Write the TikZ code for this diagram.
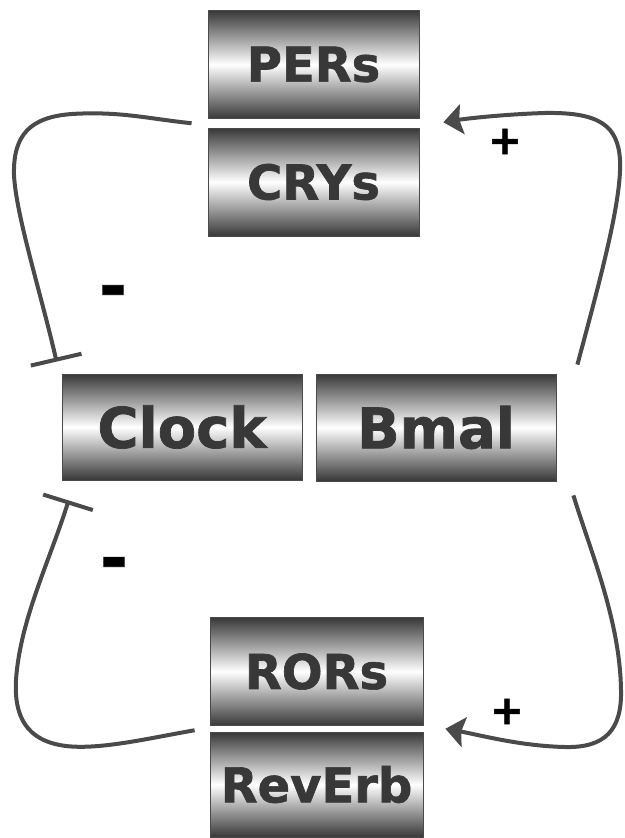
\documentclass[tikz,border=0pt]{standalone}
\usepackage{fontspec}
\setmainfont{DejaVu Sans}[BoldFeatures={FakeBold=1.3}]
\usetikzlibrary{arrows.meta,calc}

\definecolor{shadeDark}{HTML}{383838}
\definecolor{boxEdge}{HTML}{4A4A4A}
\definecolor{lineGray}{HTML}{4A4A4A}
\definecolor{labelGray}{HTML}{383838}

\tikzset{
  protbox/.style={draw=boxEdge, line width=0.8pt,
    top color=shadeDark, bottom color=shadeDark, middle color=white,
    inner sep=0pt, text=labelGray, font=\fontsize{48}{50}\selectfont\bfseries,
    minimum width=211pt, minimum height=108pt},
  corebox/.style={protbox, font=\fontsize{56}{58}\selectfont\bfseries,
    minimum width=240pt, minimum height=106pt},
  link/.style={draw=lineGray, line width=4pt},
  activate/.style={link, -{Stealth[length=19pt, width=30pt, inset=3pt]}},
  repress/.style={link, -{Bar[width=52pt]}},
  plussign/.style={anchor=base, inner sep=0pt, font=\fontsize{40}{42}\selectfont\bfseries},
  minussign/.style={anchor=base, inner sep=0pt, font=\fontsize{66}{68}\selectfont\bfseries},
}

\begin{document}
\begin{tikzpicture}[x=1pt, y=-1pt]
\useasboundingbox (0,0) rectangle (624,838);

% protein boxes
\node[protbox] (pers) at (313.5,64.5) {PERs};
\node[protbox] (crys) at (313.5,182) {CRYs};
\node[corebox] (clock) at (182,427) {Clock};
\node[corebox, minimum height=107pt] (bmal) at (436,427.5) {Bmal};
\node[protbox, minimum width=213pt] (rors) at (316.5,671.5) {RORs};
\node[protbox, minimum width=213pt, minimum height=105pt] (reverb) at (316.5,784.5) {RevErb};

% connector end points next to the boxes
\coordinate (crysOut) at ($(pers.south west)!0.5!(crys.north west)+(-16,0)$);
\coordinate (clockTop) at ($(clock.north west)+(-5,-12)$);
\coordinate (bmalTop) at ($(bmal.north east)+(21,-9)$);
\coordinate (crysIn) at ($(pers.south east)!0.5!(crys.north east)+(24,-1)$);
\coordinate (reverbOut) at ($(rors.south west)!0.5!(reverb.north west)+(-15,1.5)$);
\coordinate (clockBot) at ($(clock.south west)+(7,20)$);
\coordinate (bmalBot) at ($(bmal.south east)+(17,14)$);
\coordinate (rorsIn) at ($(rors.south east)!0.5!(reverb.north east)+(22,0)$);

% PER/CRY repress Clock/Bmal
\draw[repress] (crysOut) .. controls (150,119) and (120,111) .. (72,114)
  .. controls (30,117) and (13,135) .. (14,175)
  .. controls (16,215) and (40,290) .. (clockTop);

% Clock/Bmal activate PER/CRY
\draw[activate] (bmalTop) .. controls (600,280) and (622,200) .. (620,160)
  .. controls (618,126) and (600,112) .. (545,113)
  .. controls (510,114) and (470,118) .. (crysIn);

% REV-ERB represses Clock/Bmal
\draw[repress] (reverbOut) .. controls (150,738) and (100,750) .. (66,746)
  .. controls (26,741) and (14,716) .. (16,680)
  .. controls (20,620) and (50,560) .. (clockBot);

% Clock/Bmal activate ROR/REV-ERB
\draw[activate] (bmalBot) .. controls (590,550) and (620,620) .. (621,690)
  .. controls (622,730) and (605,748) .. (565,747)
  .. controls (520,746) and (480,735) .. (rorsIn);

% signs
\node[plussign] (plusTop) at (505,154) {+};
\node[plussign] (plusBot) at (507,724) {+};
\node[minussign] (minusTop) at (113,309) {-};
\node[minussign] (minusBot) at (114,581) {-};
\end{tikzpicture}
\end{document}
